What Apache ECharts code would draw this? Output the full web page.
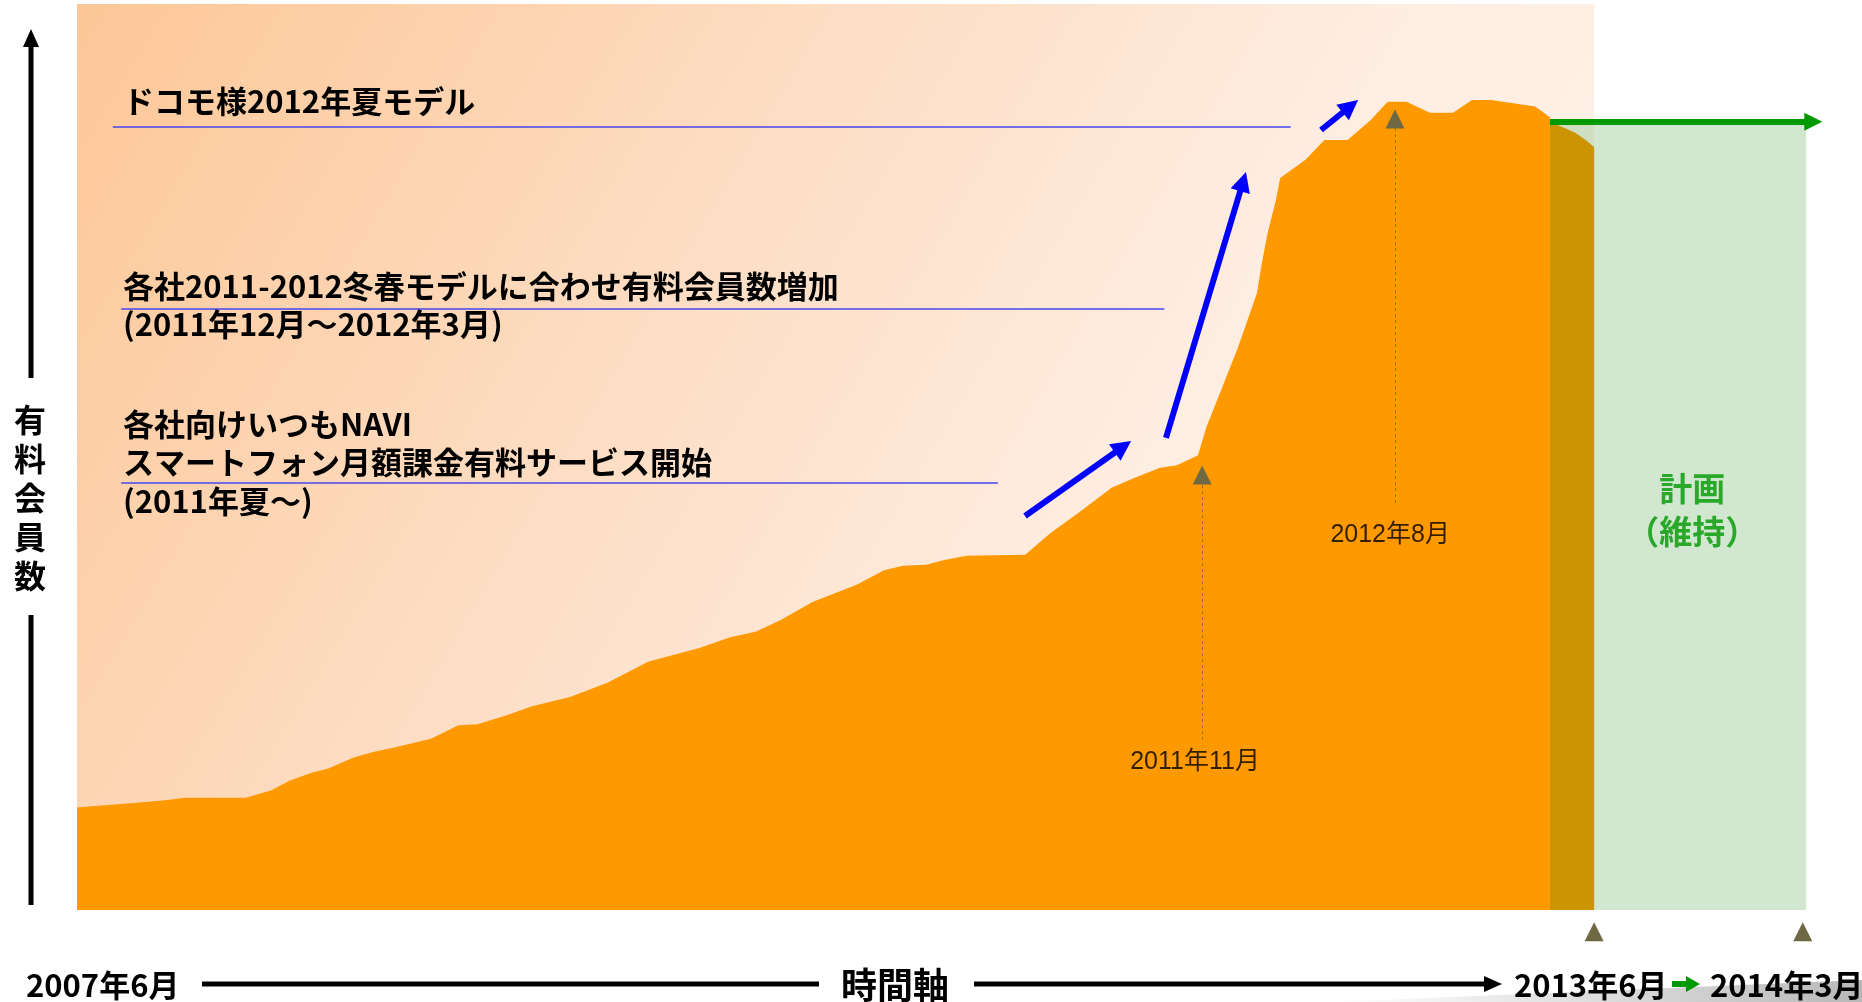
<!DOCTYPE html>
<html>
<head>
<meta charset="utf-8">
<script src="https://cdn.jsdelivr.net/npm/echarts@6/dist/echarts.min.js"></script>
<style>
  html, body { margin: 0; padding: 0; background: #ffffff; }
  #chart { width: 1862px; height: 1002px; }
</style>
</head>
<body>
<div id="chart"></div>
<script>
// x: months since 2007-06, y: paid members (relative index, top of frame = 100)
const memberMonths = [0, 1.0, 2.1, 3.1, 4.2, 5.1, 8.0, 9.2, 10.1, 11.2, 11.9, 13.1, 14.0, 15.0, 16.8, 18.1, 19.0,
  20.4, 21.6, 23.4, 25.2, 27.1, 28.2, 29.5, 31.0, 32.2, 33.4, 34.9, 37.0, 38.3, 39.2, 40.3, 41.1, 42.2, 45.0,
  46.2, 47.5, 49.1, 50.2, 51.4, 52.2, 53.2, 53.6, 54.3, 55.1, 56.0, 56.2, 56.5, 56.9, 57.1, 58.3, 59.2, 60.3,
  61.4, 62.2, 63.1, 64.2, 65.3, 66.2, 67.1, 68.0, 69.2, 69.9];
const memberValues = [11.3, 11.5, 11.7, 11.9, 12.1, 12.4, 12.4, 13.2, 14.3, 15.2, 15.6, 16.8, 17.4, 17.9, 18.9, 20.4, 20.5,
  21.5, 22.5, 23.5, 25.1, 27.4, 28.1, 28.9, 30.1, 30.7, 32.0, 34.0, 35.9, 37.5, 38.0, 38.1, 38.6, 39.1, 39.2,
  41.6, 43.8, 46.6, 47.7, 48.8, 49.1, 50.2, 53.3, 57.4, 62.1, 68.1, 71.0, 74.7, 78.4, 80.8, 82.8, 85.0, 85.0,
  87.2, 89.2, 89.2, 88.0, 88.0, 89.4, 89.4, 89.1, 88.7, 87.5];

// 2013-04 .. 2013-06 (estimate)
const estimateMonths = [69.9, 70.6, 71.1, 71.6, 72.0];
const estimateValues = [87.0, 86.3, 85.8, 85.0, 84.2];

// plan (maintain) 2013-06 .. 2014-03
const planStart = 69.9;
const planEnd = 82.06;
const planArrowEnd = 82.4;
const planValue = 87.0;

const milestoneMonths = [53.4, 62.55, 72.0, 81.9];
const milestoneValues = [48.0, 87.3, -2.4, -2.4];

const guideLines = [[53.4, 46.9, 18.8], [62.55, 86.3, 44.7]];
const guideLabels = ['2011年11月', '2012年8月'];
const guideLabelPos = [[53.06, 16.3], [62.32, 41.4]];

// blue growth arrows: [fromMonth, fromValue, toMonth, toValue]
const growthArrows = [
  [44.99, 43.49, 49.64, 51.13],
  [51.68, 52.10, 55.34, 80.40],
  [59.04, 86.09, 60.43, 88.71]
];

// underlines for the annotations: [fromMonth, toMonth, value]
const underlines = [[1.7, 57.6, 86.5], [2.1, 51.6, 66.4], [2.1, 43.7, 47.2]];

const annotations = [
  ['ドコモ様2012年夏モデル', 101],
  ['各社2011-2012冬春モデルに合わせ有料会員数増加', 286],
  ['(2011年12月～2012年3月)', 324],
  ['各社向けいつもNAVI', 424],
  ['スマートフォン月額課金有料サービス開始', 462],
  ['(2011年夏～)', 501]
];

const JP = '"Noto Sans CJK JP", "Noto Sans", sans-serif';
const chart = echarts.init(document.getElementById('chart'));

const zip = (xs, ys) => xs.map((x, i) => [x, ys[i]]);

const option = {
  backgroundColor: '#ffffff',
  animation: false,
  grid: { left: 77, top: 4, right: 15, bottom: 92 },
  xAxis: { type: 'value', min: 0, max: 84, show: false },
  yAxis: { type: 'value', min: 0, max: 100, show: false },
  series: [
    {
      name: 'background',
      type: 'line',
      data: [],
      z: 0,
      silent: true,
      markArea: {
        silent: true,
        itemStyle: {
          color: new echarts.graphic.LinearGradient(0, 0, 1, 1, [
            { offset: 0, color: '#fdc797' },
            { offset: 0.35, color: '#fddcc1' },
            { offset: 0.65, color: '#feede1' },
            { offset: 1, color: '#fff6ef' }
          ])
        },
        data: [[{ coord: [0, 100] }, { coord: [72, 0] }]]
      }
    },
    {
      name: 'plan area',
      type: 'line',
      data: [],
      z: 1,
      silent: true,
      markArea: {
        silent: true,
        itemStyle: { color: 'rgba(139,196,138,0.4)' },
        data: [[{ coord: [planStart, planValue] }, { coord: [planEnd, 0] }]]
      }
    },
    {
      name: '有料会員数',
      type: 'line',
      data: zip(memberMonths, memberValues),
      showSymbol: false,
      symbol: 'none',
      z: 2,
      lineStyle: { width: 0, color: '#ff9900' },
      areaStyle: { color: '#ff9900', opacity: 1 }
    },
    {
      name: '見込み',
      type: 'line',
      data: zip(estimateMonths, estimateValues),
      showSymbol: false,
      symbol: 'none',
      z: 2,
      lineStyle: { width: 0, color: '#cc9400' },
      areaStyle: { color: '#cc9400', opacity: 1 }
    },
    {
      name: 'underlines',
      type: 'line',
      data: [],
      z: 3,
      markLine: {
        silent: true,
        symbol: 'none',
        label: { show: false },
        lineStyle: { color: '#4646ee', width: 1.5, type: 'solid' },
        data: underlines.map(u => [{ coord: [u[0], u[2]] }, { coord: [u[1], u[2]] }])
      }
    },
    {
      name: 'guides',
      type: 'line',
      data: [],
      z: 3,
      markLine: {
        silent: true,
        symbol: 'none',
        label: { show: false },
        lineStyle: { color: '#8c6d46', width: 1, type: [3, 3] },
        data: guideLines.map(g => [{ coord: [g[0], g[1]] }, { coord: [g[0], g[2]] }])
      }
    },
    {
      name: 'growth',
      type: 'line',
      data: [],
      z: 4,
      markLine: {
        silent: true,
        symbol: ['none', 'triangle'],
        symbolSize: 20,
        label: { show: false },
        lineStyle: { color: '#0000ff', width: 6, type: 'solid' },
        itemStyle: { color: '#0000ff' },
        data: growthArrows.map(a => [{ coord: [a[0], a[1]] }, { coord: [a[2], a[3]] }])
      }
    },
    {
      name: '計画',
      type: 'line',
      data: [],
      z: 5,
      markLine: {
        silent: true,
        symbol: ['none', 'triangle'],
        symbolSize: 18,
        label: { show: false },
        lineStyle: { color: '#009900', width: 6, type: 'solid' },
        itemStyle: { color: '#009900' },
        data: [[{ coord: [planStart, planValue] }, { coord: [planArrowEnd, planValue] }]]
      }
    },
    {
      name: 'milestones',
      type: 'scatter',
      data: zip(milestoneMonths, milestoneValues),
      symbol: 'triangle',
      symbolSize: 19,
      clip: false,
      z: 6,
      itemStyle: { color: '#6e6843', opacity: 1 }
    },
    {
      name: 'milestone labels',
      type: 'scatter',
      data: guideLabelPos.map((p, i) => ({ value: p, name: guideLabels[i] })),
      symbolSize: 0,
      z: 7,
      label: {
        show: true,
        position: 'inside',
        formatter: p => p.name,
        color: '#000000',
        fontSize: 25,
        fontFamily: '"Liberation Sans", "Noto Sans CJK JP", sans-serif'
      }
    },
    {
      name: 'plan label',
      type: 'scatter',
      data: [{ value: [76.65, 44.2], name: '計画\n（維持）' }],
      symbolSize: 0,
      z: 7,
      label: {
        show: true,
        position: 'inside',
        formatter: p => p.name,
        color: '#009900',
        fontSize: 33,
        fontWeight: 'bold',
        lineHeight: 43,
        fontFamily: JP
      }
    }
  ],
  graphic: [
    // vertical axis with title
    { type: 'line', shape: { x1: 31, y1: 378, x2: 31, y2: 44 }, style: { stroke: '#000', lineWidth: 5 } },
    { type: 'polygon', shape: { points: [[23, 47], [31, 29], [39, 47]] }, style: { fill: '#000' } },
    { type: 'line', shape: { x1: 31, y1: 615, x2: 31, y2: 905 }, style: { stroke: '#000', lineWidth: 5 } },
    {
      type: 'text', x: 30, y: 498,
      style: {
        text: '有\n料\n会\n員\n数', fill: '#000', fontSize: 32, fontWeight: 'bold', fontFamily: JP,
        lineHeight: 39, align: 'center', verticalAlign: 'middle'
      }
    },
    // annotations
    ...annotations.map(a => ({
      type: 'text', x: 123, y: a[1], z: 10,
      style: { text: a[0], fill: '#000', fontSize: 31, fontWeight: 'bold', fontFamily: JP, verticalAlign: 'middle' }
    })),
    // time axis
    {
      type: 'polygon',
      shape: { points: [[1330, 1002], [1862, 980], [1862, 1002]] },
      style: {
        fill: new echarts.graphic.LinearGradient(0, 0, 1, 0, [
          { offset: 0, color: 'rgba(190,190,190,0)' },
          { offset: 1, color: '#b8b8b8' }
        ])
      }
    },
    {
      type: 'text', x: 26, y: 985,
      style: { text: '2007年6月', fill: '#000', fontSize: 31, fontWeight: 'bold', fontFamily: JP, verticalAlign: 'middle' }
    },
    { type: 'line', shape: { x1: 202, y1: 984, x2: 819, y2: 984 }, style: { stroke: '#000', lineWidth: 5 } },
    {
      type: 'text', x: 895, y: 985,
      style: { text: '時間軸', fill: '#000', fontSize: 36, fontWeight: 'bold', fontFamily: JP, align: 'center', verticalAlign: 'middle' }
    },
    { type: 'line', shape: { x1: 974, y1: 984, x2: 1488, y2: 984 }, style: { stroke: '#000', lineWidth: 5 } },
    { type: 'polygon', shape: { points: [[1484, 976], [1502, 984], [1484, 992]] }, style: { fill: '#000' } },
    {
      type: 'text', x: 1514, y: 985,
      style: { text: '2013年6月', fill: '#000', fontSize: 31, fontWeight: 'bold', fontFamily: JP, verticalAlign: 'middle' }
    },
    { type: 'line', shape: { x1: 1672, y1: 984, x2: 1688, y2: 984 }, style: { stroke: '#009900', lineWidth: 6 } },
    { type: 'polygon', shape: { points: [[1686, 976], [1700, 984], [1686, 992]] }, style: { fill: '#009900' } },
    {
      type: 'text', x: 1710, y: 985,
      style: { text: '2014年3月', fill: '#000', fontSize: 31, fontWeight: 'bold', fontFamily: JP, verticalAlign: 'middle' }
    }
  ]
};

chart.setOption(option);
</script>
</body>
</html>
